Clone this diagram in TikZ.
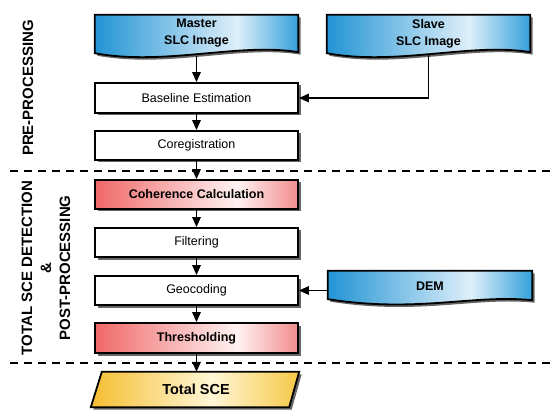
\documentclass[tikz,border=0pt]{standalone}
\usepackage{fontspec}
\setmainfont{Liberation Sans}
\usetikzlibrary{arrows.meta,shadows,calc}
\definecolor{bL}{RGB}{34,148,212}
\definecolor{bM}{RGB}{222,239,250}
\definecolor{bR}{RGB}{52,160,218}
\definecolor{rL}{RGB}{240,104,104}
\definecolor{rM}{RGB}{255,242,242}
\definecolor{rR}{RGB}{242,140,140}
\definecolor{yL}{RGB}{245,190,48}
\definecolor{yM}{RGB}{255,246,214}
\definecolor{yR}{RGB}{246,200,70}
\pgfdeclarehorizontalshading{blueshade}{100bp}{color(0bp)=(bL); color(25bp)=(bL); color(60bp)=(bM); color(75bp)=(bR); color(100bp)=(bR)}
\pgfdeclarehorizontalshading{redshade}{100bp}{color(0bp)=(rL); color(25bp)=(rL); color(60bp)=(rM); color(75bp)=(rR); color(100bp)=(rR)}
\pgfdeclarehorizontalshading{yellowshade}{100bp}{color(0bp)=(yL); color(25bp)=(yL); color(54bp)=(yM); color(75bp)=(yR); color(100bp)=(yR)}
\begin{document}
\begin{tikzpicture}[x=1pt,y=-1pt,
  shdw/.style={drop shadow={shadow xshift=2.5pt,shadow yshift=-2.5pt,opacity=0.6,fill=black}},
  box/.style={draw,line width=1.8pt,fill=white,minimum width=203pt,minimum height=29pt,inner sep=0pt,
    font=\fontsize{12.5}{15}\selectfont,shdw},
  redbox/.style={box,shade,shading=redshade,font=\fontsize{12.5}{15}\selectfont\bfseries},
  holder/.style={minimum width=203pt,minimum height=38pt,inner sep=0pt,align=center,
    font=\fontsize{12.5}{17}\selectfont\bfseries},
  docshape/.style={draw,line width=1.8pt,shade,shading=blueshade,shdw},
  yshape/.style={draw,line width=1.8pt,shade,shading=yellowshade,shdw},
  arr/.style={-{Triangle[length=10pt,width=8.5pt]},line width=1.6pt},
  sepline/.style={dashed,dash pattern=on 8pt off 6pt,line width=1.6pt},
  sidelbl/.style={rotate=90,align=center,font=\fontsize{15}{19}\selectfont\bfseries}
]
\useasboundingbox (0,0) rectangle (550,420);

% document shapes (blue)
\node[holder] (master) at (196.5,34) {};
\path[docshape] (master.north west) -- (master.north east) -- ($(master.south east)+(0,-1)$)
  .. controls ($(master.south east)+(-58,-11)$) and ($(master.south west)+(70,13)$) .. (master.south west) -- cycle;
\node[holder] at (196.5,33.5) {Master\\SLC Image};

\node[holder] (slave) at (428.5,34) {};
\path[docshape] (slave.north west) -- (slave.north east) -- ($(slave.south east)+(0,-1)$)
  .. controls ($(slave.south east)+(-58,-11)$) and ($(slave.south west)+(70,13)$) .. (slave.south west) -- cycle;
\node[holder] at (428.5,33.5) {Slave\\SLC Image};

\node[holder,minimum width=204pt,minimum height=28pt] (dem) at (430,285) {};
\path[docshape] (dem.north west) -- (dem.north east) -- ($(dem.south east)+(0,1)$)
  .. controls ($(dem.south east)+(-60,-5)$) and ($(dem.south west)+(90,14)$) .. (dem.south west) -- cycle;
\node[holder,minimum width=204pt,minimum height=28pt] at (430,286) {DEM};

% process boxes
\node[box,minimum height=30pt] (baseline) at (196.5,98) {Baseline Estimation};
\node[box] (coreg) at (196.5,145.5) {Coregistration};
\node[redbox] (coherence) at (196.5,194.5) {Coherence Calculation};
\node[box] (filtering) at (196.5,242.5) {Filtering};
\node[box] (geocoding) at (196.5,290.5) {Geocoding};
\node[redbox,minimum height=30pt] (thresh) at (196.5,338) {Thresholding};

% output parallelogram
\node[minimum width=198pt,minimum height=35pt,inner sep=0pt] (tsceh) at (195,389.5) {};
\path[yshape] ($(tsceh.north west)+(6,0)$) -- ($(tsceh.north east)+(5,0)$)
  -- ($(tsceh.south east)+(-5,0)$) -- ($(tsceh.south west)+(-5,0)$) -- cycle;
\node[font=\fontsize{14.5}{17}\selectfont\bfseries] (tsce) at (196,389.5) {Total SCE};

% separators
\draw[sepline] (10,171) -- (550,171);
\draw[sepline] (10,363) -- (550,363);

% side labels
\node[sidelbl] (lblpre) at (28,88) {PRE-PROCESSING};
\node[sidelbl] (lbltot) at (46,268) {TOTAL SCE DETECTION\\\&\\POST-PROCESSING};

% connectors
\draw[arr] ($(master.south)+(0,3)$) -- (baseline.north);
\draw[arr] ($(slave.south)+(0,2)$) |- (baseline.east);
\draw[arr] (baseline) -- (coreg);
\draw[arr] (coreg) -- (coherence);
\draw[arr] (coherence) -- (filtering);
\draw[arr] (filtering) -- (geocoding);
\draw[arr] (geocoding) -- (thresh);
\draw[arr] (dem.west |- geocoding.east) -- (geocoding.east);
\draw[arr] (thresh.south) -- (thresh.south |- tsceh.north);
\end{tikzpicture}
\end{document}
